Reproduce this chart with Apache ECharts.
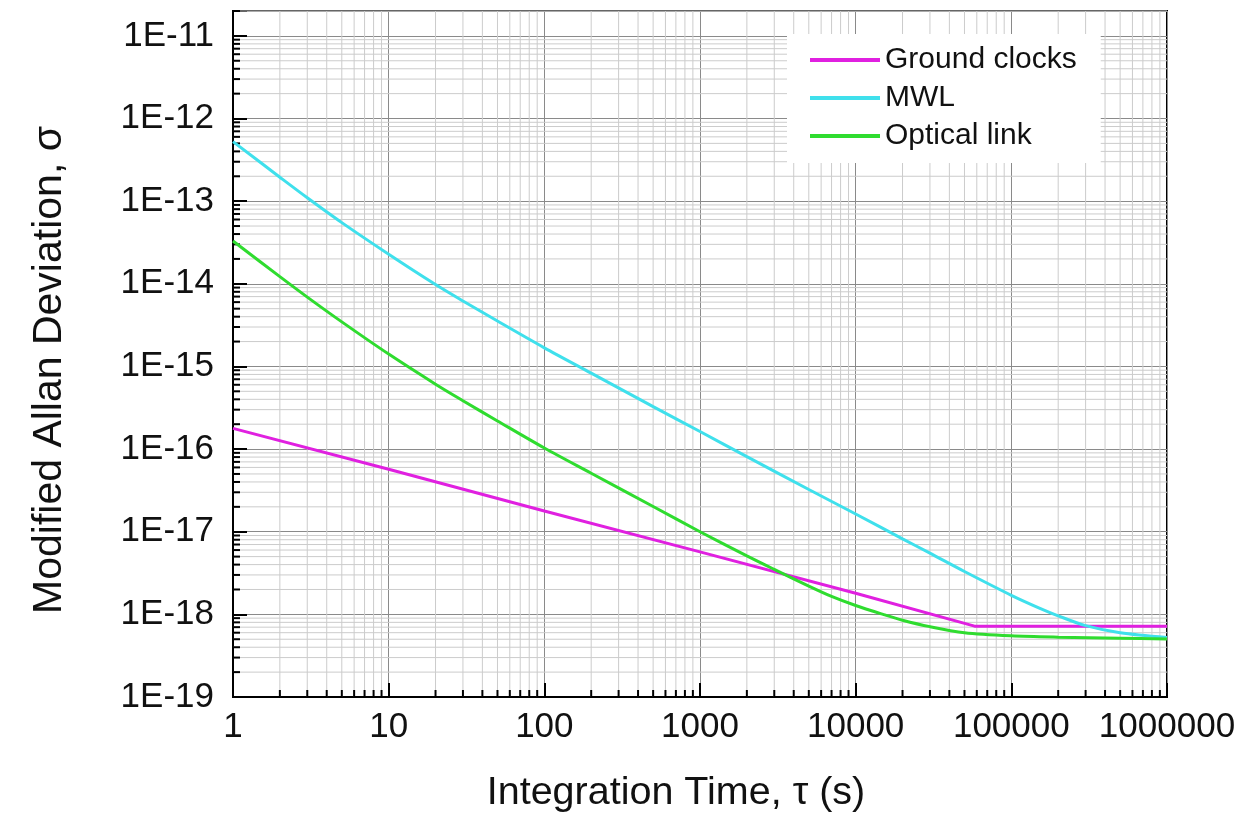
<!DOCTYPE html>
<html>
<head>
<meta charset="utf-8">
<script src="https://cdn.jsdelivr.net/npm/echarts@6/dist/echarts.min.js"></script>
<style>
html,body{margin:0;padding:0;background:#fff;}
#chart{width:1255px;height:823px;}
</style>
</head>
<body>
<div id="chart"></div>
<script>
// ---- data ----
const seriesNames = ['Ground clocks', 'MWL', 'Optical link'];

const tauGround = [1, 10, 100, 1000, 10000, 58000, 1000000];
const ground    = [1.78e-16, 5.7e-17, 1.78e-17, 5.7e-18, 1.8e-18, 7.2e-19, 7.2e-19];

const tauMwl = [1, 2, 3, 5, 10, 20, 30, 50, 100, 200, 500, 1000, 2000, 5000,
                10000, 20000, 30000, 50000, 100000, 150000, 200000, 300000, 500000, 1000000];
const mwl = [5.25e-13, 1.95e-13, 1.10e-13, 5.5e-14, 2.28e-14, 9.8e-15, 6.2e-15, 3.54e-15,
             1.68e-15, 8.3e-16, 3.27e-16, 1.63e-16, 8.1e-17, 3.24e-17,
             1.64e-17, 8.2e-18, 5.5e-18, 3.3e-18, 1.7e-18, 1.2e-18, 9.6e-19, 7.3e-19, 6.0e-19, 5.25e-19];

const tauOptical = [1, 2, 3, 5, 10, 20, 30, 50, 100, 200, 500, 1000, 2000, 3000, 5000, 7000,
                    10000, 15000, 20000, 30000, 50000, 100000, 200000, 500000, 1000000];
const optical = [3.3e-14, 1.22e-14, 6.9e-15, 3.46e-15, 1.41e-15, 6.1e-16, 3.85e-16, 2.19e-16,
                 1.03e-16, 5.1e-17, 2.02e-17, 1.0e-17, 5.1e-18, 3.5e-18, 2.2e-18, 1.65e-18,
                 1.28e-18, 1.0e-18, 8.5e-19, 7.1e-19, 6.0e-19, 5.5e-19, 5.3e-19, 5.15e-19, 5.05e-19];

const xTickLabels = ['1', '10', '100', '1000', '10000', '100000', '1000000'];
const yTickLabels = ['1E-19','1E-18','1E-17','1E-16','1E-15','1E-14','1E-13','1E-12','1E-11'];

const xMin = 1, xMax = 1e6;
const yMin = 1e-19, yMax = 2e-11;

// minor (2..9) positions of the log grids
const xMinor = [];
for (let d = 0; d < 6; d++) for (let m = 2; m <= 9; m++) xMinor.push(m * Math.pow(10, d));
const yMinor = [];
for (let d = -19; d < -11; d++) for (let m = 2; m <= 9; m++) yMinor.push(m * Math.pow(10, d));
yMinor.push(2e-11);

const colors = ['#e020e0', '#3fe0ec', '#2fdc2f'];
const FONT = 'Liberation Sans, Arial, sans-serif';

function pairs(xs, ys) { return xs.map((x, i) => [x, ys[i]]); }

const chart = echarts.init(document.getElementById('chart'), null, {renderer: 'canvas'});

const minorItems = xMinor.map(v => ['x', v]).concat(yMinor.map(v => ['y', v]));

const option = {
  backgroundColor: '#fff',
  animation: false,
  grid: {left: 233, right: 88, top: 11, bottom: 126, show: true,
         borderColor: '#000', borderWidth: 2, backgroundColor: 'transparent'},
  legend: {
    data: seriesNames,
    orient: 'vertical',
    left: 787, top: 34,
    backgroundColor: '#fff',
    padding: [11, 24, 12, 23],
    itemWidth: 70, itemHeight: 4, itemGap: 8,
    icon: 'rect',
    textStyle: {fontFamily: FONT, fontSize: 30, color: '#111', lineHeight: 30},
    z: 10
  },
  xAxis: {
    type: 'log', logBase: 10, min: xMin, max: xMax, interval: 1,
    name: 'Integration Time, \u03c4 (s)', nameLocation: 'middle', nameGap: 76,
    nameTextStyle: {fontFamily: FONT, fontSize: 39.5, color: '#111', padding: [0, 48, 0, 0]},
    axisLine: {show: true, onZero: false, lineStyle: {color: '#000', width: 2}},
    axisTick: {show: true, inside: true, length: 14, lineStyle: {color: '#000', width: 2}},
    axisLabel: {margin: 13, fontFamily: FONT, fontSize: 35, color: '#111',
                formatter: v => { const e = Math.log10(v); return Math.abs(e - Math.round(e)) < 1e-6 ? xTickLabels[Math.round(e)] : ''; }},
    splitLine: {show: true, lineStyle: {color: '#8a8a8a', width: 1}}
  },
  yAxis: {
    type: 'log', logBase: 10, min: yMin, max: yMax, interval: 1,
    name: 'Modified Allan Deviation, \u03c3', nameLocation: 'middle', nameGap: 163,
    nameTextStyle: {fontFamily: FONT, fontSize: 41, color: '#111', padding: [0, 32, 0, 0]},
    axisLine: {show: true, onZero: false, lineStyle: {color: '#000', width: 2}},
    axisTick: {show: true, inside: true, length: 14, lineStyle: {color: '#000', width: 2}},
    axisLabel: {margin: 19, fontFamily: FONT, fontSize: 35, color: '#111',
                formatter: v => { const e = Math.log10(v); return Math.abs(e - Math.round(e)) < 1e-6 ? yTickLabels[Math.round(e) + 19] : ''; }},
    splitLine: {show: true, lineStyle: {color: '#8a8a8a', width: 1}}
  },
  series: [
    {
      name: 'minorGrid', type: 'custom', silent: true, z: 1,
      data: minorItems,
      dimensions: ['axis', 'value'],
      encode: {x: -1, y: -1},
      renderItem: function (params, api) {
        const ax = api.value(0), v = api.value(1);
        let p1, p2, t1, t2;
        if (ax === 'x') {
          p1 = api.coord([v, yMin]); p2 = api.coord([v, yMax]);
          t1 = p1; t2 = [p1[0], p1[1] - 7];
        } else {
          p1 = api.coord([xMin, v]); p2 = api.coord([xMax, v]);
          t1 = p1; t2 = [p1[0] + 7, p1[1]];
        }
        return {type: 'group', children: [
          {type: 'line', shape: {x1: p1[0], y1: p1[1], x2: p2[0], y2: p2[1]},
           style: {stroke: '#cccccc', lineWidth: 1}},
          {type: 'line', shape: {x1: t1[0], y1: t1[1], x2: t2[0], y2: t2[1]},
           style: {stroke: '#000', lineWidth: 2}}
        ]};
      },
      clip: false,
      tooltip: {show: false}
    },
    {name: seriesNames[0], type: 'line', data: pairs(tauGround, ground), showSymbol: false, symbol: 'none',
     lineStyle: {color: colors[0], width: 3}, itemStyle: {color: colors[0]}, z: 3},
    {name: seriesNames[1], type: 'line', data: pairs(tauMwl, mwl), showSymbol: false, symbol: 'none', smooth: 0.3,
     lineStyle: {color: colors[1], width: 3}, itemStyle: {color: colors[1]}, z: 3},
    {name: seriesNames[2], type: 'line', data: pairs(tauOptical, optical), showSymbol: false, symbol: 'none', smooth: 0.3,
     lineStyle: {color: colors[2], width: 3}, itemStyle: {color: colors[2]}, z: 3}
  ]
};
chart.setOption(option);
</script>
</body>
</html>
